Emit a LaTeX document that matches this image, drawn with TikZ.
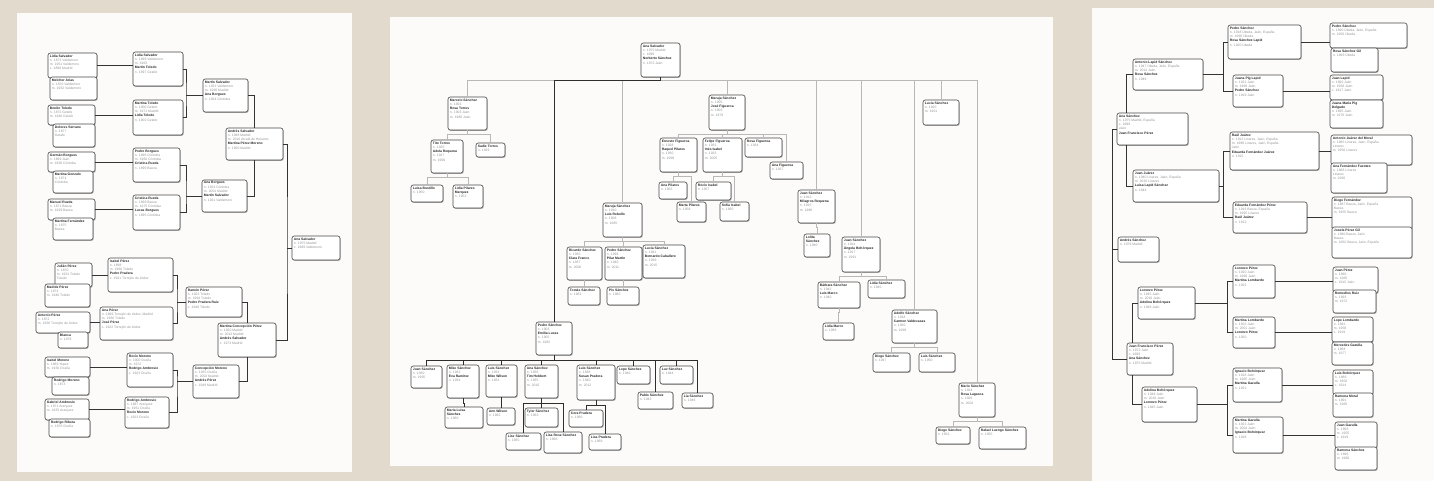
\documentclass[tikz,border=0pt]{standalone}
\usepackage{fontspec}
\setmainfont{Liberation Sans}
\usetikzlibrary{shadows,calc}
\definecolor{bgc}{RGB}{226,219,205}
\definecolor{pagec}{RGB}{252,251,249}
\newcommand\NM[1]{{\bfseries\color{black!85}#1}}
\newcommand\DT[1]{{\color{black!42}#1}}
\newcommand\FB[6]{%
  \node[famb, minimum width={#4-#2}, minimum height={#5-#3}] (#1) at ({(#2+#4)/2},{(#3+#5)/2}) {};%
  \node[famt] (#1t) at ([xshift=2pt,yshift=-1.7pt]#1.north west) {#6};}
\tikzset{
  famb/.style={draw=black!72, line width=0.6pt, rounded corners=2.2pt, fill=white, inner sep=0pt,
     drop shadow={shadow xshift=0.7pt, shadow yshift=-0.9pt, fill=black!60}},
  famt/.style={anchor=north west, inner sep=0pt, align=left, font=\fontsize{3.35}{4.3}\selectfont},
  cl/.style={draw=black!80, line width=0.7pt},
  tl/.style={draw=black!28, line width=0.35pt},
  thk/.style={draw=black!82, line width=0.9pt},
  page/.style={fill=pagec, draw=none}
}
\begin{document}
\begin{tikzpicture}[x=1pt,y=-1pt]
\useasboundingbox (0,0) rectangle (1434,481);
\fill[bgc] (0,0) rectangle (1434,481);
\fill[page] (17,13) rectangle (352,472);
\fill[page] (390,17) rectangle (1053,466);
\fill[page] (1092,8) rectangle (1434,481);

% ---------------- Panel 1 ----------------
\FB{A1}{48}{53}{97}{78}{\NM{Lidia Salvador}\\\DT{n. 1873 Valdemoro}\\\DT{m. 1951 Valdemoro}\\\DT{c. 1898 Madrid}}
\FB{A2}{50}{77}{97}{100}{\NM{Melchor Arias}\\\DT{n. 1870 Valdemoro}\\\DT{m. 1932 Valdemoro}}
\FB{B1}{48}{105}{95}{125}{\NM{Benito Toledo}\\\DT{n. 1872 Getafe}\\\DT{m. 1940 Getafe}}
\FB{B2}{53}{124}{95}{147}{\NM{Dolores Serrano}\\\DT{n. 1877}\\\DT{Getafe}}
\FB{C1}{48}{152}{95}{172}{\NM{Germán Borgues}\\\DT{n. 1869 Jaén}\\\DT{m. 1938 Córdoba}}
\FB{C2}{53}{171}{93}{193}{\NM{Martina Gonzalo}\\\DT{n. 1874}\\\DT{Córdoba}}
\FB{D1}{48}{199}{95}{220}{\NM{Manuel Rueda}\\\DT{n. 1871 Baeza}\\\DT{m. 1929 Baeza}}
\FB{D2}{53}{218}{93}{240}{\NM{Martina Fernández}\\\DT{n. 1875}\\\DT{Baeza}}
\FB{E}{133}{52}{183}{86}{\NM{Lidia Salvador}\\\DT{n. 1899 Valdemoro}\\\DT{m. 1963}\\\NM{Martín Toledo}\\\DT{n. 1897 Getafe}}
\FB{F}{133}{100}{183}{135}{\NM{Martina Toledo}\\\DT{n. 1900 Getafe}\\\DT{m. 1971 Madrid}\\\NM{Lidia Toledo}\\\DT{n. 1902 Getafe}}
\FB{G}{133}{148}{180}{182}{\NM{Pedro Borgues}\\\DT{n. 1896 Córdoba}\\\DT{m. 1960 Córdoba}\\\NM{Cristina Rueda}\\\DT{n. 1899 Baeza}}
\FB{H}{133}{195}{180}{230}{\NM{Cristina Rueda}\\\DT{n. 1899 Baeza}\\\DT{m. 1975 Córdoba}\\\NM{Lucas Borgues}\\\DT{n. 1895 Córdoba}}
\FB{I}{203}{79}{248}{112}{\NM{Martín Salvador}\\\DT{n. 1921 Valdemoro}\\\DT{m. 1990 Madrid}\\\NM{Ana Borgues}\\\DT{n. 1924 Córdoba}}
\FB{J}{202}{180}{247}{212}{\NM{Ana Borgues}\\\DT{n. 1924 Córdoba}\\\DT{m. 2001 Madrid}\\\NM{Martín Salvador}\\\DT{n. 1921 Valdemoro}}
\FB{K}{226}{128}{283}{160}{\NM{Andrés Salvador}\\\DT{n. 1948 Madrid}\\\DT{m. 2010 Alcalá de Henares}\\\NM{Martina Pérez Moreno}\\\DT{n. 1950 Madrid}}
\FB{R}{292}{236}{340}{260}{\NM{Ana Salvador}\\\DT{n. 1975 Madrid}\\\DT{c. 1999 Valdemoro}}

\FB{L1}{55}{263}{92}{287}{\NM{Julián Pérez}\\\DT{n. 1870}\\\DT{m. 1931 Toledo}\\\DT{Toledo}}
\FB{L2}{45}{284}{90}{307}{\NM{Matilde Pérez}\\\DT{n. 1874}\\\DT{m. 1940 Toledo}}
\FB{M1}{36}{312}{90}{333}{\NM{Antonio Pérez}\\\DT{n. 1872}\\\DT{m. 1936 Torrejón de Ardoz}}
\FB{M2}{58}{332}{88}{348}{\NM{Blanca}\\\DT{n. 1878}}
\FB{N1}{45}{357}{90}{377}{\NM{Isabel Moreno}\\\DT{n. 1869 Yepes}\\\DT{m. 1930 Ocaña}}
\FB{N2}{52}{377}{89}{395}{\NM{Rodrigo Moreno}\\\DT{n. 1873}}
\FB{O1}{45}{399}{89}{420}{\NM{Gabriel Ambrosio}\\\DT{n. 1871 Aranjuez}\\\DT{m. 1935 Aranjuez}}
\FB{O2}{49}{419}{90}{437}{\NM{Rodrigo Ribera}\\\DT{n. 1876 Ocaña}}
\FB{P}{108}{258}{173}{292}{\NM{Isabel Pérez}\\\DT{n. 1898}\\\DT{m. 1960 Toledo}\\\NM{Pedro Pradera}\\\DT{c. 1921 Torrejón de Ardoz}}
\FB{Q}{100}{307}{173}{340}{\NM{Ana Pérez}\\\DT{n. 1899 Torrejón de Ardoz, Madrid}\\\DT{m. 1966 Toledo}\\\NM{José Pérez}\\\DT{c. 1922 Torrejón de Ardoz}}
\FB{S}{127}{353}{173}{387}{\NM{Rocío Moreno}\\\DT{n. 1900 Ocaña}\\\DT{m. 1972}\\\NM{Rodrigo Ambrosio}\\\DT{c. 1923 Ocaña}}
\FB{T}{125}{397}{169}{428}{\NM{Rodrigo Ambrosio}\\\DT{n. 1897 Aranjuez}\\\DT{m. 1961 Ocaña}\\\NM{Rocío Moreno}\\\DT{c. 1923 Ocaña}}
\FB{U}{186}{287}{242}{317}{\NM{Ramón Pérez}\\\DT{n. 1923 Toledo}\\\DT{m. 1994 Toledo}\\\NM{Pedro Pradera Ruiz}\\\DT{c. 1948 Toledo}}
\FB{V}{193}{365}{239}{398}{\NM{Concepción Moreno}\\\DT{n. 1925 Ocaña}\\\DT{m. 2002 Madrid}\\\NM{Andrés Pérez}\\\DT{c. 1949 Madrid}}
\FB{K2}{218}{323}{276}{357}{\NM{Martina Concepción Pérez}\\\DT{n. 1950 Madrid}\\\DT{m. 2012 Madrid}\\\NM{Andrés Salvador}\\\DT{c. 1973 Madrid}}

\draw[cl] (A1.east) -- (A1.east -| E.west);
\draw[cl] (B1.east) -- (B1.east -| F.west);
\draw[cl] (C1.east) -- (C1.east -| G.west);
\draw[cl] (D1.east) -- (D1.east -| H.west);
\coordinate (b1) at (186,95.5);
\coordinate (b2) at (186,196);
\draw[cl] (E.east) -| (b1) |- (F.east);
\draw[cl] (b1) -- (I.west);
\draw[cl] (G.east) -| (b2) |- (H.east);
\draw[cl] (b2) -- (J.west);
\draw[cl] (I.east) -| (K.north);
\draw[cl] (J.east) -| (K.south);
\draw[cl] (L1.east) -- (L1.east -| P.west);
\draw[cl] (M1.east) -- (M1.east -| Q.west);
\draw[cl] (N1.east) -- (N1.east -| S.west);
\draw[cl] (O1.east) -- (O1.east -| T.west);
\coordinate (b3) at (177,302);
\coordinate (b4) at (177,381.5);
\draw[cl] (P.east) -| (b3) |- (Q.east);
\draw[cl] (b3) -- (U.west);
\draw[cl] (S.east) -| (b4) |- (T.east);
\draw[cl] (b4) -- (V.west);
\draw[cl] (U.east) -| (K2.north);
\draw[cl] (V.east) -| (K2.south);
\coordinate (kR) at (287,248);
\draw[cl] (K.east) -| (kR) |- (K2.east);
\draw[cl] (kR) -- (R.west);

% ---------------- Panel 2 ----------------
\FB{Root2}{641}{43}{680}{77}{\NM{Ana Salvador}\\\DT{n. 1975 Madrid}\\\DT{c. 1999}\\\NM{Norberto Sánchez}\\\DT{n. 1972 Jaén}}
\FB{Marcelo}{448}{97}{487}{130}{\NM{Marcelo Sánchez}\\\DT{n. 1901}\\\NM{Rosa Torres}\\\DT{n. 1903 Jaén}\\\DT{m. 1980 Jaén}}
\FB{Tito}{431}{140}{463}{173}{\NM{Tito Torres}\\\DT{n. 1925}\\\NM{Adela Requena}\\\DT{n. 1927}\\\DT{m. 1990}}
\FB{Sadie}{476}{143}{505}{157}{\NM{Sadie Torres}\\\DT{n. 1929}}
\FB{Luisa}{411}{185}{443}{202}{\NM{Luisa Bustillo}\\\DT{n. 1950}}
\FB{LidiaP}{453}{185}{483}{208}{\NM{Lidia Pilares}\\\NM{Marquez}\\\DT{n. 1952}}
\FB{MarujaA}{709}{95}{745}{130}{\NM{Maruja Sánchez}\\\DT{n. 1905}\\\NM{José Figueroa}\\\DT{n. 1903}\\\DT{m. 1979}}
\FB{Ernesto}{660}{138}{697}{172}{\NM{Ernesto Figueroa}\\\DT{n. 1928}\\\NM{Raquel Pilares}\\\DT{n. 1930}\\\DT{m. 1999}}
\FB{Felipe}{703}{138}{742}{172}{\NM{Felipe Figueroa}\\\DT{n. 1931}\\\NM{Inés Isabel}\\\DT{n. 1933}\\\DT{m. 2005}}
\FB{Rosa}{745}{138}{782}{157}{\NM{Rosa Figueroa}\\\DT{n. 1934}}
\FB{AnaF}{770}{162}{803}{179}{\NM{Ana Figueroa}\\\DT{n. 1937}}
\FB{AnaP}{659}{182}{687}{199}{\NM{Ana Pilares}\\\DT{n. 1955}}
\FB{MartaP}{677}{202}{706}{222}{\NM{Marta Pilares}\\\DT{n. 1958}}
\FB{Rocio}{696}{182}{731}{200}{\NM{Rocío Isabel}\\\DT{n. 1957}}
\FB{Sofia}{720}{202}{749}{221}{\NM{Sofía Isabel}\\\DT{n. 1960}}
\FB{Maruja2}{603}{203}{642}{237}{\NM{Maruja Sánchez}\\\DT{n. 1910}\\\NM{Luis Rebollo}\\\DT{n. 1908}\\\DT{m. 1985}}
\FB{Ricardo}{567}{247}{602}{280}{\NM{Ricardo Sánchez}\\\DT{n. 1935}\\\NM{Clara Franco}\\\DT{n. 1937}\\\DT{m. 2008}}
\FB{PedroB}{605}{247}{642}{280}{\NM{Pedro Sánchez}\\\DT{n. 1938}\\\NM{Pilar Martín}\\\DT{n. 1940}\\\DT{m. 2011}}
\FB{Lucia}{643}{245}{685}{278}{\NM{Lucía Sánchez}\\\DT{n. 1941}\\\NM{Bernardo Caballero}\\\DT{n. 1939}\\\DT{m. 2015}}
\FB{Tomas}{568}{287}{600}{305}{\NM{Tomás Sánchez}\\\DT{n. 1962}}
\FB{Pio}{607}{287}{639}{305}{\NM{Pío Sánchez}\\\DT{n. 1965}}
\FB{JuanA}{798}{190}{835}{223}{\NM{Juan Sánchez}\\\DT{n. 1912}\\\NM{Milagros Requena}\\\DT{n. 1915}\\\DT{m. 1988}}
\FB{Lola}{804}{234}{830}{257}{\NM{Lolita}\\\NM{Sánchez}\\\DT{n. 1940}}
\FB{JuanX}{842}{237}{880}{272}{\NM{Juan Sánchez}\\\DT{n. 1914}\\\NM{Ángela Bohórquez}\\\DT{n. 1917}\\\DT{m. 1991}}
\FB{Barbara}{818}{282}{860}{308}{\NM{Bárbara Sánchez}\\\DT{n. 1942}\\\NM{Luis Marco}\\\DT{n. 1940}}
\FB{LidiaS}{868}{280}{905}{298}{\NM{Lidia Sánchez}\\\DT{n. 1945}}
\FB{LidiaM}{823}{323}{854}{340}{\NM{Lidia Marco}\\\DT{n. 1968}}
\FB{Adolfo}{892}{310}{937}{343}{\NM{Adolfo Sánchez}\\\DT{n. 1918}\\\NM{Carmen Valdecasas}\\\DT{n. 1920}\\\DT{m. 1999}}
\FB{DiegoA}{873}{353}{910}{372}{\NM{Diego Sánchez}\\\DT{n. 1947}}
\FB{LuisA}{919}{353}{955}{372}{\NM{Luis Sánchez}\\\DT{n. 1950}}
\FB{LuciaR}{923}{100}{959}{125}{\NM{Lucía Sánchez}\\\DT{n. 1920}\\\DT{m. 1921}}
\FB{Mario}{959}{383}{995}{417}{\NM{Mario Sánchez}\\\DT{n. 1924}\\\NM{Rosa Lagasca}\\\DT{n. 1926}\\\DT{m. 2004}}
\FB{DiegoB}{936}{427}{970}{444}{\NM{Diego Sánchez}\\\DT{n. 1952}}
\FB{Rafael}{979}{427}{1026}{449}{\NM{Rafael Luengo Sánchez}\\\DT{n. 1955}}

\FB{Pedro}{536}{322}{572}{355}{\NM{Pedro Sánchez}\\\DT{n. 1903}\\\NM{Emilia Lucas}\\\DT{n. 1905}\\\DT{m. 1982}}
\FB{ca}{411}{366}{442}{388}{\NM{Juan Sánchez}\\\DT{n. 1930}\\\DT{m. 1995}}
\FB{cb}{447}{365}{479}{398}{\NM{Mike Sánchez}\\\DT{n. 1932}\\\NM{Eva Ramírez}\\\DT{n. 1934}}
\FB{cba}{445}{407}{483}{428}{\NM{María Luisa}\\\NM{Sánchez}\\\DT{n. 1960}}
\FB{cc}{486}{365}{517}{397}{\NM{Luis Sánchez}\\\DT{n. 1934}\\\NM{Mike Wilson}\\\DT{n. 1931}}
\FB{cca}{487}{408}{515}{425}{\NM{Ann Wilson}\\\DT{n. 1962}}
\FB{cd}{525}{365}{558}{398}{\NM{Ana Sánchez}\\\DT{n. 1936}\\\NM{Tim Hebbert}\\\DT{n. 1935}\\\DT{m. 2010}}
\FB{Tyler}{525}{408}{558}{427}{\NM{Tyler Sánchez}\\\DT{n. 1963}}
\FB{Lise}{506}{433}{541}{450}{\NM{Lise Sánchez}\\\DT{n. 1965}}
\FB{LisaR}{544}{432}{582}{453}{\NM{Lisa Rose Sánchez}\\\DT{n. 1968}}
\FB{ce}{577}{365}{615}{400}{\NM{Luis Sánchez}\\\DT{n. 1938}\\\NM{Susan Pradera}\\\DT{n. 1940}\\\DT{m. 2012}}
\FB{Cora}{569}{410}{603}{427}{\NM{Cora Pradera}\\\DT{n. 1966}}
\FB{LisaP}{589}{434}{621}{450}{\NM{Lisa Pradera}\\\DT{n. 1969}}
\FB{cf}{617}{366}{650}{384}{\NM{Lope Sánchez}\\\DT{n. 1940}}
\FB{cg}{638}{392}{673}{409}{\NM{Pablo Sánchez}\\\DT{n. 1942}}
\FB{ch}{660}{366}{693}{384}{\NM{Luz Sánchez}\\\DT{n. 1944}}
\FB{ci}{682}{393}{713}{408}{\NM{Lía Sánchez}\\\DT{n. 1946}}

\coordinate (barL) at (467.5,80);
\coordinate (barR) at (977,80);
\draw[tl] (barL) -- (barR);
\foreach \n in {Marcelo,Maruja2,MarujaA,JuanA,JuanX,Adolfo,LuciaR,Mario}
  \draw[tl] (\n.north) -- (\n.north |- barL);
\draw[thk] (Root2.south) |- (Pedro.north |- barL) -- (Pedro.north);
\foreach \p/\c in {Marcelo/Tito,Marcelo/Sadie,Tito/Luisa,Tito/LidiaP,MarujaA/Ernesto,MarujaA/Felipe,MarujaA/Rosa,MarujaA/AnaF,Ernesto/AnaP,Ernesto/MartaP,Felipe/Rocio,Felipe/Sofia,Maruja2/Ricardo,Maruja2/PedroB,Maruja2/Lucia,Ricardo/Tomas,PedroB/Pio,JuanA/Lola,JuanX/Barbara,JuanX/LidiaS,Barbara/LidiaM,Adolfo/DiegoA,Adolfo/LuisA,Mario/DiegoB,Mario/Rafael}
  \draw[tl] (\p.south) -- ++(0,4) -| (\c.north);
\foreach \c in {ca,cb,cc,cd,ce,cf,cg,ch,ci}
  \draw[thk] (Pedro.south) -- ++(0,5) -| (\c.north);
\foreach \p/\c in {cb/cba,cc/cca,cd/Tyler,cd/Lise,cd/LisaR,ce/Cora,ce/LisaP}
  \draw[thk] (\p.south) -- ++(0,5.5) -| (\c.north);

% ---------------- Panel 3 ----------------
\FB{R3}{1117}{113}{1188}{145}{\NM{Ana Sánchez}\\\DT{n. 1975 Madrid, España}\\\DT{c. 1999}\\\DT{Jaén}\\\NM{Juan Francisco Pérez}}
\FB{A3}{1133}{59}{1203}{90}{\NM{Antonio Lapid Sánchez}\\\DT{n. 1947 Úbeda, Jaén, España}\\\DT{m. 2012 Jaén}\\\NM{Rosa Sánchez}\\\DT{n. 1949}}
\FB{B3}{1133}{170}{1219}{202}{\NM{Juan Juárez}\\\DT{n. 1940 Linares, Jaén, España}\\\DT{m. 2015 Linares}\\\NM{Luisa Lapid Sánchez}\\\DT{n. 1944}}
\FB{C3}{1228}{25}{1301}{59}{\NM{Pedro Sánchez}\\\DT{n. 1918 Úbeda, Jaén, España}\\\DT{m. 1990 Úbeda}\\\NM{Rosa Sánchez Lapid}\\\DT{n. 1920 Úbeda}}
\FB{D3}{1233}{75}{1283}{107}{\NM{Juana Pig Lapid}\\\DT{n. 1921 Jaén}\\\DT{m. 1999 Jaén}\\\NM{Pedro Sánchez}\\\DT{n. 1919 Jaén}}
\FB{E3}{1230}{132}{1319}{170}{\NM{Raúl Juárez}\\\DT{n. 1912 Linares, Jaén, España}\\\DT{m. 1980 Linares, Jaén, España}\\\DT{Jaén}\\\NM{Eduarda Fernández Juárez}\\\DT{n. 1915}}
\FB{F3}{1233}{202}{1307}{233}{\NM{Eduarda Fernández Pérez}\\\DT{n. 1916 Baeza, España}\\\DT{m. 1995 Linares}\\\NM{Raúl Juárez}\\\DT{n. 1912}}
\FB{G3a}{1330}{23}{1407}{48}{\NM{Pedro Sánchez}\\\DT{n. 1890 Úbeda, Jaén, España}\\\DT{m. 1960 Úbeda}}
\FB{G3b}{1331}{48}{1378}{72}{\NM{Rosa Sánchez Gil}\\\DT{n. 1893 Úbeda}}
\FB{H3a}{1330}{75}{1383}{100}{\NM{Juan Lapid}\\\DT{n. 1892 Jaén}\\\DT{m. 1958 Jaén}\\\DT{c. 1917 Jaén}}
\FB{H3b}{1330}{100}{1383}{128}{\NM{Juana María Pig}\\\NM{Delgado}\\\DT{n. 1895 Jaén}\\\DT{m. 1970 Jaén}}
\FB{I3a}{1331}{135}{1412}{165}{\NM{Antonio Juárez del Moral}\\\DT{n. 1885 Linares, Jaén, España}\\\DT{Linares}\\\DT{m. 1950 Linares}}
\FB{I3b}{1331}{163}{1387}{193}{\NM{Ana Fernández Fuentes}\\\DT{n. 1888 Linares}\\\DT{Linares}\\\DT{m. 1960}}
\FB{J3a}{1332}{197}{1412}{230}{\NM{Diego Fernández}\\\DT{n. 1887 Baeza, Jaén, España}\\\DT{Baeza}\\\DT{m. 1955 Baeza}}
\FB{J3b}{1332}{227}{1412}{258}{\NM{Josefa Pérez Gil}\\\DT{n. 1890 Baeza, Jaén}\\\DT{Baeza}\\\DT{m. 1962 Baeza, Jaén, España}}
\FB{K3}{1118}{237}{1159}{262}{\NM{Andrés Sánchez}\\\DT{n. 1978 Madrid}}
\FB{L3}{1127}{343}{1173}{375}{\NM{Juan Francisco Pérez}\\\DT{n. 1972 Jaén}\\\DT{c. 1999}\\\NM{Ana Sánchez}\\\DT{n. 1975 Madrid}}
\FB{M3}{1138}{287}{1195}{319}{\NM{Lorenzo Pérez}\\\DT{n. 1945 Jaén}\\\DT{m. 2010 Jaén}\\\NM{Adelina Bohórquez}\\\DT{n. 1948 Jaén}}
\FB{N3}{1142}{387}{1197}{422}{\NM{Adelina Bohórquez}\\\DT{n. 1948 Jaén}\\\DT{m. 2019 Jaén}\\\NM{Lorenzo Pérez}\\\DT{n. 1945 Jaén}}
\FB{O3}{1233}{265}{1275}{298}{\NM{Lorenzo Pérez}\\\DT{n. 1920 Jaén}\\\DT{m. 1990 Jaén}\\\NM{Martina Lombardo}\\\DT{n. 1922}}
\FB{P3}{1233}{317}{1275}{348}{\NM{Martina Lombardo}\\\DT{n. 1922 Jaén}\\\DT{m. 2001 Jaén}\\\NM{Lorenzo Pérez}\\\DT{n. 1920}}
\FB{Q3}{1233}{368}{1282}{402}{\NM{Ignacio Bohórquez}\\\DT{n. 1918 Jaén}\\\DT{m. 1985 Jaén}\\\NM{Martina Gazulla}\\\DT{n. 1921}}
\FB{R3b}{1233}{417}{1283}{453}{\NM{Martina Gazulla}\\\DT{n. 1921 Jaén}\\\DT{m. 2004 Jaén}\\\NM{Ignacio Bohórquez}\\\DT{n. 1918}}
\FB{S3a}{1333}{267}{1378}{293}{\NM{Juan Pérez}\\\DT{n. 1890}\\\DT{m. 1960}\\\DT{c. 1915 Jaén}}
\FB{S3b}{1333}{290}{1376}{313}{\NM{Remedios Ruiz}\\\DT{n. 1893}\\\DT{m. 1972}}
\FB{T3a}{1332}{317}{1373}{342}{\NM{Lope Lombardo}\\\DT{n. 1891}\\\DT{m. 1958}\\\DT{c. 1919}}
\FB{T3b}{1332}{342}{1373}{365}{\NM{Mercedes Gazulla}\\\DT{n. 1894}\\\DT{m. 1977}}
\FB{U3a}{1333}{370}{1373}{395}{\NM{Luis Bohórquez}\\\DT{n. 1889}\\\DT{m. 1950}\\\DT{c. 1914}}
\FB{U3b}{1333}{393}{1373}{417}{\NM{Ramona Moral}\\\DT{n. 1891}\\\DT{m. 1966}}
\FB{V3a}{1335}{422}{1377}{448}{\NM{Juan Gazulla}\\\DT{n. 1893}\\\DT{m. 1955}\\\DT{c. 1919}}
\FB{V3b}{1335}{447}{1377}{470}{\NM{Ramona Sánchez}\\\DT{n. 1896}\\\DT{m. 1980}}

\draw[cl] ([xshift=10pt]R3.north west) |- (A3.west);
\draw[cl] ([xshift=10pt]R3.south west) |- (B3.west);
\coordinate (ba) at (1223,74.5);
\coordinate (bb) at (1223,186);
\draw[cl] (A3.east) -- (ba);
\draw[cl] (C3.west) -| (ba) |- (D3.west);
\draw[cl] (B3.east) -- (bb);
\draw[cl] (E3.west) -| (bb) |- (F3.west);
\draw[cl] (C3.east) -- (C3.east -| G3a.west);
\draw[cl] (D3.east) -- (D3.east -| H3a.west);
\draw[cl] (E3.east) -- (E3.east -| I3a.west);
\draw[cl] (F3.east) -- (F3.east -| J3a.west);
\coordinate (lx) at (1112,129);
\draw[cl] (R3.west) -- (lx) |- (L3.west);
\draw[cl] (K3.west) -- (K3.west -| lx);
\draw[cl] ([xshift=6pt]L3.north west) |- (M3.west);
\draw[cl] ([xshift=6pt]L3.south west) |- (N3.west);
\coordinate (bm) at (1227,303);
\coordinate (bn) at (1227,404.5);
\draw[cl] (M3.east) -- (bm);
\draw[cl] (O3.west) -| (bm) |- (P3.west);
\draw[cl] (N3.east) -- (bn);
\draw[cl] (Q3.west) -| (bn) |- (R3b.west);
\draw[cl] (O3.east) -- (O3.east -| S3a.west);
\draw[cl] (P3.east) -- (P3.east -| T3a.west);
\draw[cl] (Q3.east) -- (Q3.east -| U3a.west);
\draw[cl] (R3b.east) -- (R3b.east -| V3a.west);
\end{tikzpicture}
\end{document}
